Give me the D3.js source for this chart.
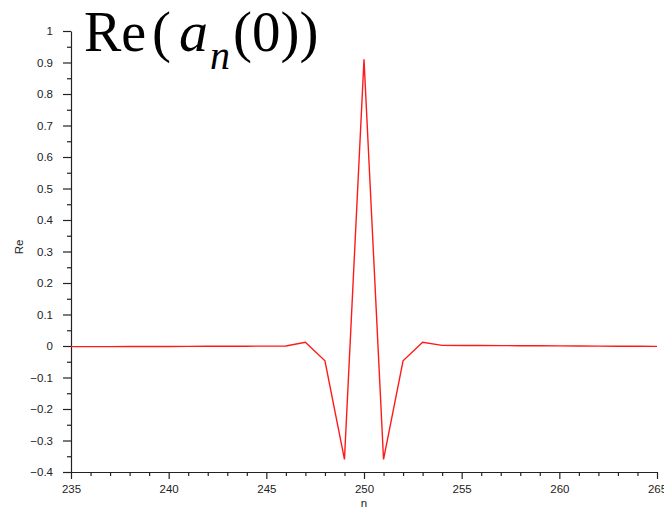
<!DOCTYPE html>
<html>
<head>
<meta charset="utf-8">
<script src="https://cdn.jsdelivr.net/npm/d3@7/dist/d3.min.js"></script>
<style>
  html, body { margin: 0; padding: 0; background: #fff; }
  svg { display: block; }
  .tick text { font-family: "Liberation Sans", Arial, Helvetica, sans-serif; font-size: 11.5px; fill: #222; }
  .axis-title { font-family: "Liberation Sans", Arial, Helvetica, sans-serif; font-size: 11.5px; fill: #222; }
  .title { font-family: "Liberation Serif", "Times New Roman", serif; fill: #000; }
</style>
</head>
<body>
<svg id="chart" width="664" height="509"></svg>
<script>
// Sample index n and the real part of a_n(0)
const nValues = [235, 236, 237, 238, 239, 240, 241, 242, 243, 244, 245, 246, 247, 248, 249, 250,
                 251, 252, 253, 254, 255, 256, 257, 258, 259, 260, 261, 262, 263, 264, 265];
const reValues = [-0.002, -0.002, -0.002, -0.0018, -0.0016, -0.0014, -0.0012, -0.001, -0.0008, -0.0006, -0.0004, 0.0,
                  0.012, -0.047, -0.36, 0.91, -0.36, -0.047, 0.012, 0.002,
                  0.0018, 0.0015, 0.0012, 0.0009, 0.0006, 0.0003, 0.0, -0.0003, -0.0006, -0.0009, -0.0012];

const xMajorTicks = [235, 240, 245, 250, 255, 260, 265];
const yMajorTicks = [-0.4, -0.3, -0.2, -0.1, 0, 0.1, 0.2, 0.3, 0.4, 0.5, 0.6, 0.7, 0.8, 0.9, 1];

const svg = d3.select("#chart");
const plotLeft = 71, plotRight = 657, plotTop = 31, plotBottom = 472;

const x = d3.scaleLinear().domain([235, 265]).range([plotLeft, plotRight]);
const y = d3.scaleLinear().domain([-0.4, 1]).range([plotBottom, plotTop]);

// Minor ticks: every 1 on n, every 0.05 on Re
const xMinor = d3.range(235, 266, 1).filter(v => !xMajorTicks.includes(v));
const yMinor = d3.range(-0.35, 1.0, 0.1).map(v => +v.toFixed(2));

const fmtY = v => (v < 0 ? "\u2212" + d3.format("")(Math.abs(v)) : d3.format("")(v));

// x axis
const gx = svg.append("g").attr("transform", `translate(0,${plotBottom})`);
gx.call(d3.axisBottom(x).tickValues(xMajorTicks).tickSize(7).tickSizeOuter(0).tickPadding(6).tickFormat(d3.format("d")));
gx.append("g").call(d3.axisBottom(x).tickValues(xMinor).tickSize(4).tickSizeOuter(0).tickFormat(""))
  .select(".domain").remove();

// y axis
const gy = svg.append("g").attr("transform", `translate(${plotLeft},0)`);
gy.call(d3.axisLeft(y).tickValues(yMajorTicks).tickSize(8).tickSizeOuter(0).tickPadding(10).tickFormat(fmtY));
gy.append("g").call(d3.axisLeft(y).tickValues(yMinor).tickSize(4).tickSizeOuter(0).tickFormat(""))
  .select(".domain").remove();

svg.selectAll(".domain, .tick line").attr("stroke", "#222").attr("stroke-width", 1.2);

// Axis titles
svg.append("text").attr("class", "axis-title")
  .attr("x", x(250)).attr("y", 507)
  .attr("text-anchor", "middle")
  .text("n");
svg.append("text").attr("class", "axis-title")
  .attr("transform", `translate(23,247) rotate(-90)`)
  .attr("text-anchor", "middle")
  .text("Re");

// Curve
const line = d3.line().x((d, i) => x(nValues[i])).y(d => y(d));
svg.append("path")
  .datum(reValues)
  .attr("fill", "none")
  .attr("stroke", "#ff1a1a")
  .attr("stroke-width", 1.4)
  .attr("stroke-linejoin", "miter")
  .attr("d", line);

// Title: Re(a_n(0)), typeset piece by piece with math-style spacing
const titleParts = [
  { text: "Re",   x: 84,  y: 51, size: 56, italic: false },
  { text: "(",    x: 152, y: 51, size: 57, italic: false },
  { text: "a",    x: 179, y: 51, size: 58, italic: true },
  { text: "n",    x: 210, y: 69, size: 40, italic: true },
  { text: "(0))", x: 233, y: 51, size: 57, italic: false }
];
svg.append("g").selectAll("text")
  .data(titleParts)
  .join("text")
  .attr("class", "title")
  .attr("x", d => d.x).attr("y", d => d.y)
  .style("font-size", d => d.size + "px")
  .style("font-style", d => d.italic ? "italic" : "normal")
  .text(d => d.text);
</script>
</body>
</html>
